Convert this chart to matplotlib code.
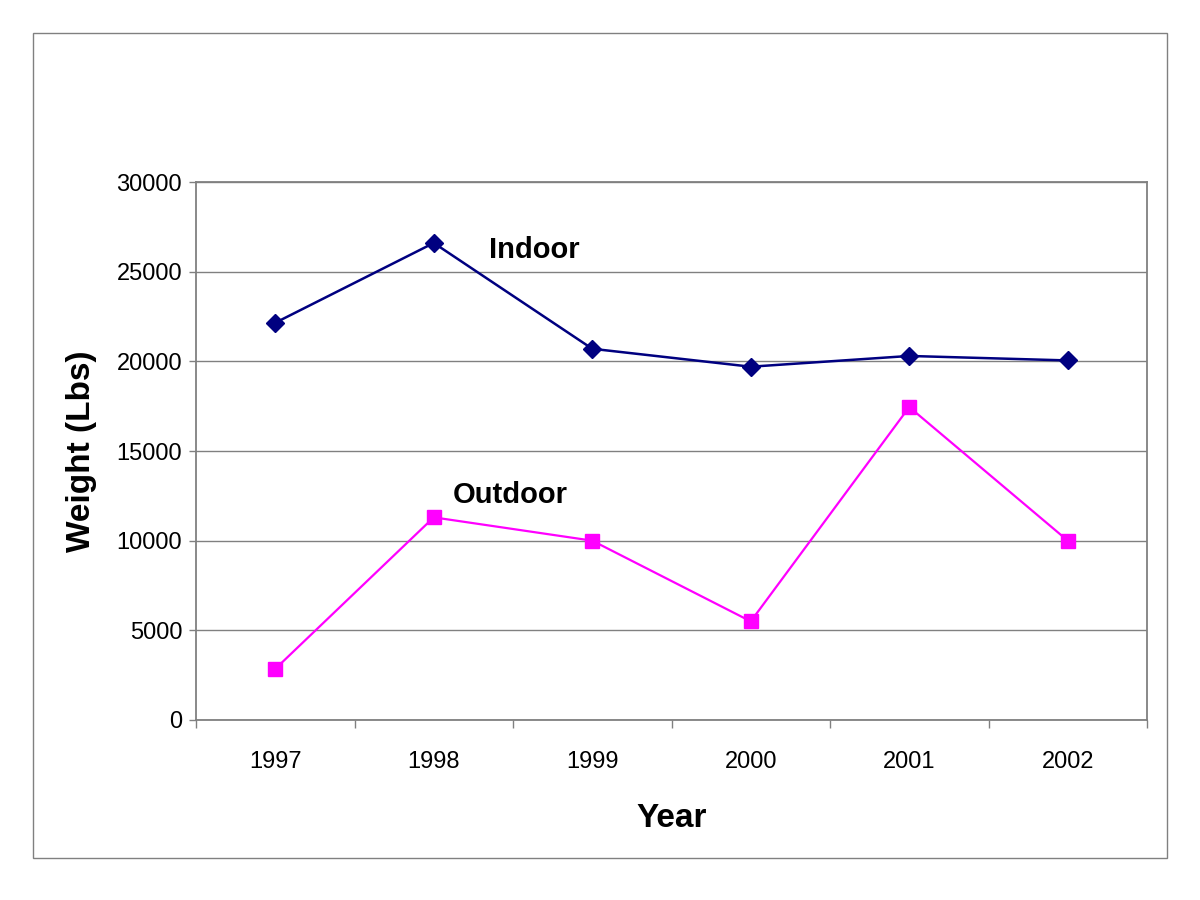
import numpy as np
import matplotlib.pyplot as plt
from matplotlib.patches import Rectangle

years = ["1997", "1998", "1999", "2000", "2001", "2002"]
indoor = [22150, 26600, 20700, 19700, 20300, 20050]
outdoor = [2850, 11300, 10000, 5500, 17450, 10000]

plt.rcParams['font.family'] = ['Liberation Sans', 'DejaVu Sans']

fig = plt.figure(figsize=(12, 9), dpi=100)
fig.patches.append(Rectangle((33 / 1200, 1 - 858 / 900), 1134 / 1200, 825 / 900,
                             transform=fig.transFigure, fill=False,
                             edgecolor="#808080", linewidth=1))

ax = fig.add_axes([196 / 1200, 0.2, 951 / 1200, 538 / 900])
x = np.arange(len(years))

ax.plot(x, indoor, color="#000080", linestyle="-", linewidth=1.8,
        marker="D", markersize=9, zorder=3)
ax.plot(x, outdoor, color="#FF00FF", linestyle="-", linewidth=1.6,
        marker="s", markersize=10, zorder=3)

ax.text(1.35, 26200, "Indoor", fontsize=21, fontweight="bold", va="center")
ax.text(1.12, 12550, "Outdoor", fontsize=21, fontweight="bold", va="center")

ax.set_xlim(-0.5, len(years) - 0.5)
ax.set_ylim(0, 30000)
ax.set_yticks(np.arange(0, 30001, 5000))
ax.yaxis.grid(True, color="#808080", linewidth=1)
ax.set_axisbelow(True)

ax.set_xticks(x)
ax.set_xticklabels(years)
ax.set_xticks(np.arange(-0.5, len(years), 1), minor=True)
ax.tick_params(axis="x", which="major", length=0, pad=22, labelsize=17)
ax.tick_params(axis="x", which="minor", length=6, color="#808080", width=1)
ax.tick_params(axis="y", length=5, color="#808080", width=1, pad=5, labelsize=17)

for s in ax.spines.values():
    s.set_color("#808080")
    s.set_linewidth(1.3)

ax.set_xlabel("Year", fontsize=24, fontweight="bold", labelpad=22)
ax.set_ylabel("Weight (Lbs)", fontsize=24, fontweight="bold", labelpad=14)

plt.savefig("out.png", dpi=100)
